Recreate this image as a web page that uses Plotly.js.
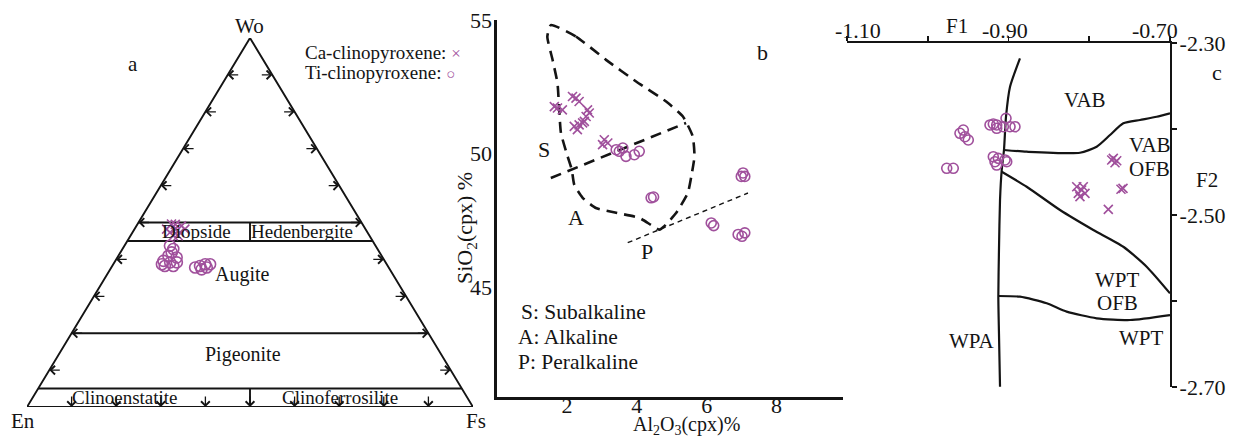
<!DOCTYPE html>
<html>
<head>
<meta charset="utf-8">
<script src="https://cdn.plot.ly/plotly-3.0.1.min.js"></script>
<style>
  html, body { margin: 0; padding: 0; background: #fff; }
  #chart { width: 1238px; height: 439px; }
</style>
</head>
<body>
<div id="chart"></div>
<script>
// ---------- a: Wo–En–Fs pyroxene classification (mol %) ----------
const caWo = [49.6, 49.5, 49.1, 48.2, 47.3, 47.3, 48.2, 46.4, 46.4, 48.2];
const caEn = [42.8, 42.0, 40.8, 42.7, 44.3, 42.1, 40.5, 44.0, 42.9, 44.6];
const caFs = [7.6, 8.5, 10.1, 9.1, 8.4, 10.6, 11.3, 9.6, 10.7, 7.2];

const tiWo = [43.7, 42.8, 41.9, 41.0, 40.5, 39.6, 39.2, 39.2, 38.2, 38.2, 38.7, 37.8, 38.2, 38.7, 38.7, 37.3, 37.8];
const tiEn = [46.1, 45.8, 46.6, 47.8, 46.2, 49.6, 48.3, 46.8, 50.0, 48.1, 50.4, 43.4, 42.1, 40.7, 39.6, 42.2, 40.8];
const tiFs = [10.2, 11.4, 11.5, 11.2, 13.3, 10.8, 12.5, 14.0, 11.8, 13.7, 10.9, 18.8, 19.7, 20.6, 21.7, 20.5, 21.4];

// triangle outline and field boundaries, as (Wo, Fs) pairs; null splits segments
const quadWo = [0, 0, 100, 0, null, 50, 50, null, 45, 45, null, 45, 50, null, 20, 20, null, 5, 5, null, 0, 5];
const quadFs = [0, 100, 0, 0, null, 0, 50, null, 0, 55, null, 27.5, 25, null, 0, 80, null, 0, 95, null, 50, 47.5];
const ternTicks = [10, 20, 30, 40, 50, 60, 70, 80, 90];

// ---------- b: Al2O3 vs SiO2 of clinopyroxene (wt %) ----------
const caAl2O3 = [1.73, 1.87, 1.64, 2.26, 2.35, 2.16, 2.59, 2.64, 2.55, 2.50, 2.35, 2.21, 2.45, 2.30, 3.07, 3.17, 3.02];
const caSiO2  = [51.71, 51.64, 51.76, 52.08, 51.95, 52.14, 51.64, 51.52, 51.39, 51.21, 51.08, 51.02, 51.15, 50.90, 50.52, 50.40, 50.34];
const tiAl2O3 = [3.41, 3.60, 3.69, 3.93, 4.07, 3.50, 4.41, 4.48, 7.04, 7.09, 6.99, 6.13, 6.20, 6.90, 7.09, 7.01];
const tiSiO2  = [50.15, 50.21, 49.90, 49.96, 50.09, 50.09, 48.35, 48.38, 49.28, 49.15, 49.15, 47.41, 47.31, 46.98, 47.04, 46.91];

// field outline (closed) and the S/A and A/P dividers
const fieldAl = [1.54, 2.26, 3.12, 3.98, 4.84, 5.32, 5.60, 5.65, 5.56, 5.46, 5.13, 4.79, 4.65, 4.07, 3.41, 2.83, 2.45, 2.21, 2.14, 2.02, 1.83, 1.78, 1.73, 1.59, 1.44, 1.54];
const fieldSi = [54.81, 54.38, 53.51, 52.70, 51.95, 51.39, 50.65, 49.90, 49.15, 48.53, 47.79, 47.29, 47.16, 47.60, 47.79, 47.97, 48.35, 48.84, 49.40, 49.90, 50.77, 51.64, 52.64, 53.51, 54.38, 54.81];
const saAl = [1.54, 5.41];
const saSi = [49.09, 51.15];
const apAl = [3.74, 7.18];
const apSi = [46.67, 48.53];

// ---------- c: F1–F2 discrimination ----------
const caF1 = [-0.7702, -0.7660, -0.7681, -0.7722, -0.8155, -0.8094, -0.8053, -0.8136, -0.8074, -0.8115, -0.7607, -0.7582, -0.7764];
const caF2 = [-2.4341, -2.4369, -2.4392, -2.4360, -2.4671, -2.4709, -2.4748, -2.4748, -2.4671, -2.4787, -2.4701, -2.4690, -2.4934];
const tiF1 = [-0.9229, -0.9146, -0.9064, -0.8981, -0.8920, -0.9031, -0.9146, -0.9188, -0.9188, -0.9126, -0.9043, -0.9167, -0.9146, -0.9022, -0.9601, -0.9560, -0.9498, -0.9539, -0.9765, -0.9684];
const tiF2 = [-2.3953, -2.3953, -2.3973, -2.3973, -2.3973, -2.3876, -2.3992, -2.3942, -2.4322, -2.4341, -2.4360, -2.4380, -2.4419, -2.4380, -2.4050, -2.4012, -2.4128, -2.4090, -2.4457, -2.4457];

const wpaF1 = [-0.8858, -0.8981, -0.9031, -0.9056, -0.9084, -0.9105, -0.9118, -0.9126, -0.9118, -0.9105];
const wpaF2 = [-2.3178, -2.3508, -2.3857, -2.4244, -2.4477, -2.4826, -2.5407, -2.5950, -2.6376, -2.6997];
const vabF1 = [-0.9056, -0.8775, -0.8115, -0.7908, -0.7743, -0.7578, -0.7372, -0.7165, -0.70];
const vabF2 = [-2.4244, -2.4264, -2.4276, -2.4206, -2.4070, -2.3934, -2.3895, -2.3857, -2.3817];
const ofbF1 = [-0.9084, -0.8775, -0.8362, -0.7950, -0.7578, -0.7289, -0.70];
const ofbF2 = [-2.4497, -2.4671, -2.4942, -2.5174, -2.5369, -2.5601, -2.5911];
const wptF1 = [-0.9126, -0.8858, -0.8527, -0.8280, -0.7908, -0.7495, -0.70];
const wptF2 = [-2.5942, -2.5950, -2.6027, -2.6124, -2.6201, -2.6221, -2.6163];

// F1 axis: tick positions and the labelled subset
const f1Ticks = [-1.10, -1.00, -0.90, -0.80, -0.70];
const f1Labels = ['-1.10', '-0.90', '-0.70'];
const f1LabelVals = [-1.10, -0.90, -0.70];
const f2Ticks = [-2.30, -2.40, -2.50, -2.60, -2.70];
const f2Text = ['-2.30', '', '-2.50', '', '-2.70'];

// ---------- drawing ----------
const W = 1238, H = 439;
const PURPLE = '#a0509c';
const INK = '#141414';
const SERIF = 'Liberation Serif, Times New Roman, serif';
const fx = p => p / W;          // page pixel -> paper x
const fy = p => 1 - p / H;      // page pixel -> paper y

// ternary (Wo, En, Fs) -> plane of panel a; the sum is normalised first
function ternX(wo, en, fs) { const s = wo + en + fs; return 100 * (fs + wo / 2) / s; }
function ternY(wo, en, fs) { const s = wo + en + fs; return 100 * wo / s; }

const caX = caWo.map((w, i) => ternX(w, caEn[i], caFs[i]));
const caY = caWo.map((w, i) => ternY(w, caEn[i], caFs[i]));
const tiX = tiWo.map((w, i) => ternX(w, tiEn[i], tiFs[i]));
const tiY = tiWo.map((w, i) => ternY(w, tiEn[i], tiFs[i]));
const quadX = quadWo.map((w, i) => w === null ? null : quadFs[i] + w / 2);
const quadY = quadWo.slice();

const crossMarker = { symbol: 'x-thin-open', size: 9, color: PURPLE, line: { color: PURPLE, width: 1.6 } };
const circleMarker = { symbol: 'circle-open', size: 10, color: PURPLE, line: { color: PURPLE, width: 1.6 } };

const traces = [
  // panel a
  { x: quadX, y: quadY, xaxis: 'x', yaxis: 'y', mode: 'lines', line: { color: INK, width: 1.9 }, connectgaps: false },
  { x: tiX, y: tiY, xaxis: 'x', yaxis: 'y', mode: 'markers', marker: Object.assign({}, circleMarker, { size: 11 }) },
  { x: caX, y: caY, xaxis: 'x', yaxis: 'y', mode: 'markers', marker: crossMarker },
  // panel b
  { x: fieldAl, y: fieldSi, xaxis: 'x2', yaxis: 'y2', mode: 'lines', line: { color: INK, width: 2.6, dash: '11px,7px', shape: 'spline', smoothing: 0.5 } },
  { x: saAl, y: saSi, xaxis: 'x2', yaxis: 'y2', mode: 'lines', line: { color: INK, width: 2.6, dash: '11px,7px' } },
  { x: apAl, y: apSi, xaxis: 'x2', yaxis: 'y2', mode: 'lines', line: { color: INK, width: 1.4, dash: '5px,4px' } },
  { x: tiAl2O3, y: tiSiO2, xaxis: 'x2', yaxis: 'y2', mode: 'markers', marker: circleMarker },
  { x: caAl2O3, y: caSiO2, xaxis: 'x2', yaxis: 'y2', mode: 'markers', marker: crossMarker },
  // panel c
  { x: wpaF1, y: wpaF2, xaxis: 'x3', yaxis: 'y3', mode: 'lines', line: { color: INK, width: 2.2, shape: 'spline', smoothing: 0.6 } },
  { x: vabF1, y: vabF2, xaxis: 'x3', yaxis: 'y3', mode: 'lines', line: { color: INK, width: 2.2, shape: 'spline', smoothing: 0.6 } },
  { x: ofbF1, y: ofbF2, xaxis: 'x3', yaxis: 'y3', mode: 'lines', line: { color: INK, width: 2.2, shape: 'spline', smoothing: 0.6 } },
  { x: wptF1, y: wptF2, xaxis: 'x3', yaxis: 'y3', mode: 'lines', line: { color: INK, width: 2.2, shape: 'spline', smoothing: 0.6 } },
  { x: tiF1, y: tiF2, xaxis: 'x3', yaxis: 'y3', mode: 'markers', marker: circleMarker },
  { x: caF1, y: caF2, xaxis: 'x3', yaxis: 'y3', mode: 'markers', marker: crossMarker }
];

const annotations = [];
function label(text, x, y, opts) {
  annotations.push(Object.assign({ text: text, x: x, y: y, xref: 'paper', yref: 'paper', showarrow: false,
    xanchor: 'center', yanchor: 'middle', font: { family: SERIF, size: 19, color: INK } }, opts || {}));
}
function dataLabel(text, x, y, xr, yr, size) {
  annotations.push({ text: text, x: x, y: y, xref: xr, yref: yr, showarrow: false,
    xanchor: 'center', yanchor: 'middle', font: { family: SERIF, size: size || 19, color: INK } });
}
function tickArrow(x, y, ax, ay) {
  annotations.push({ x: x, y: y, xref: 'x', yref: 'y', ax: ax, ay: ay, text: '', showarrow: true,
    arrowhead: 4, arrowsize: 1.3, arrowwidth: 1.3, arrowcolor: INK, standoff: 0 });
}

// panel a: arrow ticks along the three edges
ternTicks.forEach(t => {
  tickArrow(t / 2, t, 12, 0);          // Wo–En edge
  tickArrow(100 - t / 2, t, -12, 0);   // Wo–Fs edge
  tickArrow(t, 0, 0, -12);             // En–Fs edge
});

// panel a labels
label('Wo', fx(250), fy(26), { font: { family: SERIF, size: 21, color: INK } });
label('En', fx(23), fy(421), { font: { family: SERIF, size: 21, color: INK } });
label('Fs', fx(476), fy(421), { font: { family: SERIF, size: 21, color: INK } });
label('a', fx(133), fy(64), { font: { family: SERIF, size: 21, color: INK } });
dataLabel('Diopside', 38.1, 47.6, 'x', 'y', 19);
dataLabel('Hedenbergite', 61.7, 47.6, 'x', 'y', 19);
dataLabel('Augite', 48.4, 35.8, 'x', 'y', 20);
dataLabel('Pigeonite', 48.4, 14.1, 'x', 'y', 20);
dataLabel('Clinoenstatite', 22.0, 2.6, 'x', 'y', 19);
dataLabel('Clinoferrosilite', 70.2, 2.6, 'x', 'y', 19);

// key
label('Ca-clinopyroxene: <span style="color:' + PURPLE + ';font-size:17px">×</span>', fx(303), fy(53),
  { xanchor: 'left', font: { family: SERIF, size: 19, color: INK } });
label('Ti-clinopyroxene: <span style="color:' + PURPLE + ';font-size:15px">○</span>', fx(303), fy(73),
  { xanchor: 'left', font: { family: SERIF, size: 19, color: INK } });

// panel b labels
label('b', fx(762), fy(52), { font: { family: SERIF, size: 22, color: INK } });
dataLabel('S', 1.35, 50.15, 'x2', 'y2', 22);
dataLabel('A', 2.27, 47.61, 'x2', 'y2', 22);
dataLabel('P', 4.28, 46.34, 'x2', 'y2', 22);
label('S: Subalkaline', fx(519), fy(312), { xanchor: 'left', font: { family: SERIF, size: 21.5, color: INK } });
label('A: Alkaline', fx(516), fy(337), { xanchor: 'left', font: { family: SERIF, size: 21.5, color: INK } });
label('P: Peralkaline', fx(516), fy(362), { xanchor: 'left', font: { family: SERIF, size: 21.5, color: INK } });
label('Al<sub>2</sub>O<sub>3</sub>(cpx)%', fx(687), fy(425), { font: { family: SERIF, size: 20, color: INK } });
label('SiO<sub>2</sub>(cpx) %', fx(466), fy(228), { textangle: -90, font: { family: SERIF, size: 22, color: INK } });

// panel c labels; the F1 values sit just above the top axis, nudged as set in the figure
const f1Shift = [11, -3, -15];
f1LabelVals.forEach((v, i) => {
  annotations.push({ text: f1Labels[i], x: v, y: fy(30), xref: 'x3', yref: 'paper', xshift: f1Shift[i],
    showarrow: false, xanchor: 'center', yanchor: 'middle', font: { family: SERIF, size: 22, color: INK } });
});
label('c', fx(1217), fy(72), { font: { family: SERIF, size: 22, color: INK } });
label('F1', fx(957), fy(26), { font: { family: SERIF, size: 21, color: INK } });
label('F2', fx(1207), fy(180), { font: { family: SERIF, size: 21, color: INK } });
dataLabel('VAB', -0.8053, -2.3663, 'x3', 'y3', 21);
dataLabel('VAB', -0.7248, -2.4186, 'x3', 'y3', 21);
dataLabel('OFB', -0.7248, -2.4466, 'x3', 'y3', 21);
dataLabel('WPT', -0.7656, -2.5756, 'x3', 'y3', 21);
dataLabel('OFB', -0.7656, -2.6023, 'x3', 'y3', 21);
dataLabel('WPA', -0.9452, -2.6465, 'x3', 'y3', 21);
dataLabel('WPT', -0.7347, -2.6430, 'x3', 'y3', 21);

const hidden = { visible: false, showgrid: false, zeroline: false, fixedrange: true };
const layout = {
  width: W, height: H,
  margin: { l: 0, r: 0, t: 0, b: 0 },
  paper_bgcolor: '#ffffff', plot_bgcolor: 'rgba(0,0,0,0)',
  showlegend: false,
  font: { family: SERIF, size: 19, color: INK },
  xaxis: Object.assign({ domain: [fx(27), fx(473)], range: [0, 100], anchor: 'y' }, hidden),
  yaxis: Object.assign({ domain: [fy(407), fy(38)], range: [0, 100], anchor: 'x' }, hidden),
  xaxis2: {
    domain: [fx(497), fx(843)], range: [0, 9.9], anchor: 'y2',
    showline: true, linewidth: 2.6, linecolor: INK, showgrid: false, zeroline: false,
    ticks: '', ticklen: 0, tickmode: 'array', tickvals: [2, 4, 6, 8], ticklabelstandoff: -13,
    tickfont: { family: SERIF, size: 22, color: INK }
  },
  yaxis2: {
    domain: [fy(397), fy(20)], range: [40.9, 55], anchor: 'x2',
    showline: true, linewidth: 2.6, linecolor: INK, showgrid: false, zeroline: false,
    ticks: '', ticklen: 0, tickmode: 'array', tickvals: [45, 50, 55], ticklabelstandoff: -2,
    tickfont: { family: SERIF, size: 22, color: INK }
  },
  xaxis3: {
    domain: [fx(847), fx(1170)], range: [-1.10, -0.70], anchor: 'y3', side: 'top',
    showline: true, linewidth: 2.2, linecolor: INK, showgrid: false, zeroline: false,
    ticks: 'outside', ticklen: 5, tickwidth: 1.8, tickcolor: INK,
    tickmode: 'array', tickvals: f1Ticks, showticklabels: false
  },
  yaxis3: {
    domain: [fy(387), fy(43)], range: [-2.70, -2.30], anchor: 'x3', side: 'right',
    showline: true, linewidth: 2.2, linecolor: INK, showgrid: false, zeroline: false,
    ticks: 'outside', ticklen: 5, tickwidth: 1.8, tickcolor: INK,
    tickmode: 'array', tickvals: f2Ticks, ticktext: f2Text, ticklabelstandoff: -2,
    tickfont: { family: SERIF, size: 22, color: INK }
  },
  annotations: annotations
};

Plotly.newPlot('chart', traces, layout, { staticPlot: true, displayModeBar: false });
</script>
</body>
</html>
